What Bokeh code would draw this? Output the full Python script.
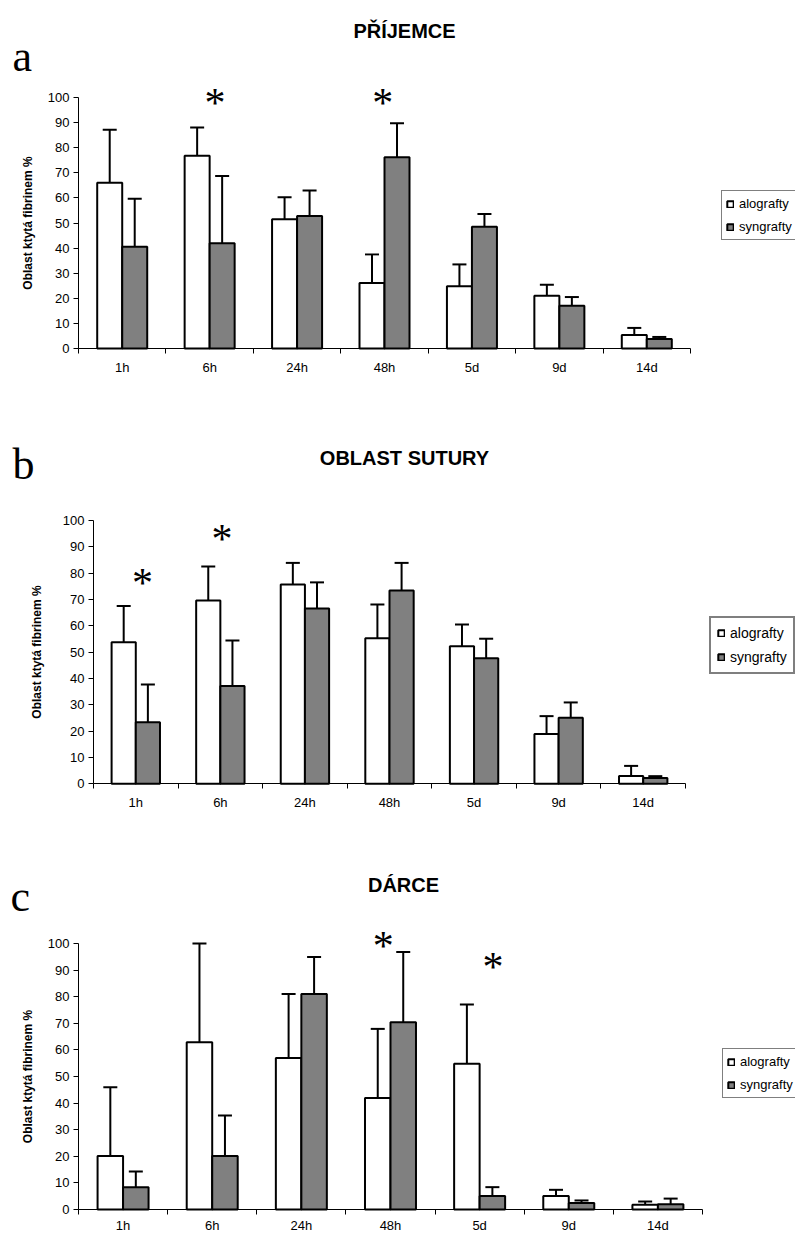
import numpy as np
from bokeh.plotting import figure
from bokeh.models import (ColumnDataSource, Range1d, FixedTicker, Whisker, TeeHead,
                          Label, Legend, LegendItem)
from bokeh.layouts import column
from bokeh.embed import file_html
from bokeh.resources import INLINE

# ---------------- data ----------------
categories = ["1h", "6h", "24h", "48h", "5d", "9d", "14d"]
series_names = ["alografty", "syngrafty"]
y_label = "Oblast ktytá fibrinem %"

# panel a - PŘÍJEMCE
a_alo = [66.0, 76.8, 51.5, 26.1, 24.8, 21.0, 5.4]
a_alo_err = [21.2, 11.2, 8.8, 11.4, 8.7, 4.4, 2.8]
a_syn = [40.5, 41.9, 52.8, 76.2, 48.5, 17.0, 3.8]
a_syn_err = [19.2, 26.8, 10.1, 13.5, 5.1, 3.5, 0.8]
a_stars = [("6h", 100), ("48h", 100)]

# panel b - OBLAST SUTURY
b_alo = [53.8, 69.6, 75.7, 55.3, 52.2, 18.9, 3.0]
b_alo_err = [13.7, 12.9, 8.2, 12.8, 8.3, 6.8, 3.8]
b_syn = [23.4, 37.1, 66.6, 73.4, 47.7, 25.1, 2.2]
b_syn_err = [14.3, 17.3, 9.9, 10.5, 7.4, 5.8, 0.7]
b_stars = [("1h", 78), ("6h", 95)]

# panel c - DÁRCE
c_alo = [20.1, 62.9, 57.0, 41.9, 54.8, 5.1, 1.8]
c_alo_err = [25.9, 37.1, 24.0, 26.0, 22.3, 2.3, 1.2]
c_syn = [8.4, 20.1, 81.0, 70.4, 5.1, 2.4, 2.0]
c_syn_err = [5.9, 15.2, 13.9, 26.4, 3.3, 1.0, 2.1]
c_stars = [("48h", 101), ("5d", 93)]

SANS = "Liberation Sans"
SERIF = "Liberation Serif"
GRAY = "#808080"
BAR_W = 0.286
FIG_W = 795


def make_panel(title, letter, alo, alo_err, syn, syn_err, stars, geo):
    n = len(categories)
    idx = np.arange(n) + 0.5
    top, H = geo["top_page"], geo["height"]
    x0, ppx = geo["axis_x_page"], geo["ppx"]
    y0, ppy = geo["axis_y_page"], geo["ppy"]

    # page coordinates -> data coordinates (frame covers whole figure)
    def dx(px):
        return (px - x0) / ppx

    def dy(py):
        return (y0 - py) / ppy

    p = figure(width=FIG_W, height=H, output_backend="svg",
               toolbar_location=None,
               x_range=Range1d(dx(0), dx(FIG_W)),
               y_range=Range1d(dy(top + H), dy(top)),
               min_border_left=0, min_border_right=0,
               min_border_top=0, min_border_bottom=0)
    p.outline_line_color = None
    p.xgrid.visible = False
    p.ygrid.visible = False
    p.background_fill_color = "white"
    p.border_fill_color = "white"

    src = ColumnDataSource(dict(
        xa=idx - BAR_W / 2, xs=idx + BAR_W / 2,
        alo=alo, syn=syn,
        alo_top=np.array(alo) + np.array(alo_err),
        syn_top=np.array(syn) + np.array(syn_err),
    ))
    ra = p.vbar(x="xa", top="alo", width=BAR_W, bottom=0, source=src,
                fill_color="white", line_color="black", line_width=2)
    rs = p.vbar(x="xs", top="syn", width=BAR_W, bottom=0, source=src,
                fill_color=GRAY, line_color="black", line_width=2)
    for xcol, lo, hi in (("xa", "alo", "alo_top"), ("xs", "syn", "syn_top")):
        w = Whisker(base=xcol, lower=lo, upper=hi, source=src, dimension="height",
                    line_color="black", line_width=2, lower_head=None,
                    upper_head=TeeHead(size=14, line_color="black", line_width=2))
        p.add_layout(w)

    # axes (drawn inside the frame at fixed data positions)
    xa = p.xaxis[0]
    xa.fixed_location = 0
    xa.ticker = FixedTicker(ticks=list(idx), minor_ticks=list(range(n + 1)))
    xa.major_label_overrides = {float(v): c for v, c in zip(idx, categories)}
    xa.bounds = (0, n)
    xa.major_tick_out = 0
    xa.major_tick_in = 0
    xa.minor_tick_out = 5
    xa.minor_tick_in = 0
    xa.minor_tick_line_color = "black"
    xa.axis_line_color = "black"
    xa.major_label_text_font = SANS
    xa.major_label_text_font_size = "13px"
    xa.major_label_text_color = "black"
    xa.major_label_standoff = geo.get("xstandoff", 6)

    ya = p.yaxis[0]
    ya.fixed_location = 0
    ya.ticker = FixedTicker(ticks=list(range(0, 101, 10)), minor_ticks=[])
    ya.bounds = (0, 100)
    ya.major_tick_out = 5
    ya.major_tick_in = 0
    ya.axis_line_color = "black"
    ya.major_tick_line_color = "black"
    ya.major_label_text_font = SANS
    ya.major_label_text_font_size = "13px"
    ya.major_label_text_color = "black"
    ya.major_label_standoff = 4
    ya.axis_label = y_label
    ya.axis_label_text_font = SANS
    ya.axis_label_text_font_style = "bold"
    ya.axis_label_text_font_size = "12px"
    ya.axis_label_text_color = "black"
    ya.axis_label_standoff = geo["ylab_standoff"]

    tx, ty = geo["title_pos"]
    p.add_layout(Label(x=dx(tx), y=dy(ty), text=title, text_align="center",
                       text_baseline="alphabetic", text_font=SANS,
                       text_font_style="bold", text_font_size="20px",
                       text_color="black", y_offset=5))
    lx, ly = geo["letter_pos"]
    p.add_layout(Label(x=dx(lx), y=dy(ly), text=letter, text_align="left",
                       text_baseline="alphabetic", text_font=SERIF,
                       text_font_size="44px", text_color="black", y_offset=11))
    for (cat, yv), off in zip(stars, geo["star_offsets"]):
        i = categories.index(cat)
        p.add_layout(Label(x=i + 0.5 + off, y=yv, text="*", text_align="center",
                           text_baseline="middle", text_font=SERIF,
                           text_font_size="42px", text_color="black",
                           y_offset=-5))

    lgx, lgy_bottom = geo["legend_page"]
    leg = Legend(items=[LegendItem(label=series_names[0], renderers=[ra]),
                        LegendItem(label=series_names[1], renderers=[rs])],
                 location=(lgx, top + H - lgy_bottom), orientation="vertical",
                 glyph_width=8, glyph_height=8, label_height=geo["leg_lh"],
                 spacing=6, padding=geo["leg_pad"], margin=0,
                 label_standoff=5,
                 label_text_font=SANS, label_text_font_size=geo["leg_fs"],
                 label_text_color="black",
                 border_line_color="black", border_line_width=geo["leg_bw"],
                 background_fill_color="white", background_fill_alpha=1.0)
    p.add_layout(leg)
    return p


geo_a = dict(top_page=0, height=410, axis_x_page=78, ppx=87.43,
             axis_y_page=348, ppy=2.51,
             title_pos=(404, 35), letter_pos=(12, 67),
             star_offsets=[0.06, -0.02], ylab_standoff=10,
             legend_page=(721, 240), leg_lh=17, leg_pad=4, leg_fs="13px", leg_bw=1)
geo_b = dict(top_page=410, height=418, axis_x_page=93, ppx=84.57,
             axis_y_page=783.3, ppy=2.633,
             title_pos=(404, 462), letter_pos=(12, 475),
             star_offsets=[0.08, 0.02], ylab_standoff=16,
             legend_page=(709, 674), leg_lh=18, leg_pad=6, leg_fs="14px", leg_bw=2)
geo_c = dict(top_page=828, height=405, axis_x_page=78, ppx=89.14,
             axis_y_page=1209, ppy=2.66,
             title_pos=(403, 889), letter_pos=(10, 907),
             star_offsets=[-0.08, 0.15], ylab_standoff=10, xstandoff=3,
             legend_page=(722, 1098), leg_lh=17, leg_pad=4, leg_fs="13px", leg_bw=1)

pa = make_panel("PŘÍJEMCE", "a", a_alo, a_alo_err, a_syn, a_syn_err, a_stars, geo_a)
pb = make_panel("OBLAST SUTURY", "b", b_alo, b_alo_err, b_syn, b_syn_err, b_stars, geo_b)
pc = make_panel("DÁRCE", "c", c_alo, c_alo_err, c_syn, c_syn_err, c_stars, geo_c)

layout = column(pa, pb, pc, spacing=0)
open("out.html", "w").write(file_html(layout, INLINE))
